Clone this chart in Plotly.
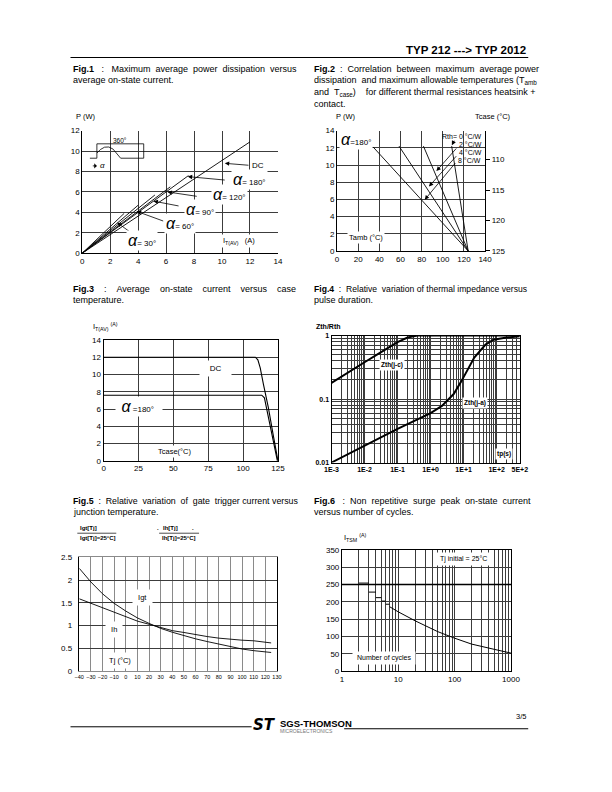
import plotly.graph_objects as go
import math
import re

PAGE_W, PAGE_H = 612, 792
FONT = "Liberation Sans, Arial, Helvetica, sans-serif"
GRID = "#3c3c3c"
GRID_LT = "#8a8a8a"

def fx(p):
    return p / PAGE_W

def fy(p):
    return 1 - p / PAGE_H

# ---------------- DATA ----------------
# Fig.1 : P(W) vs IT(AV)(A)
f1_names = ["30°", "60°", "90°", "120°", "180°", "DC"]
f1_end_I = [3.0, 4.0, 5.2, 6.3, 7.6, 12.0]
f1_end_P = [3.9, 4.7, 5.7, 6.5, 7.6, 10.9]
f1_mark_I = [2.5, 3.9, 5.1, 6.1, 7.55, 10.2]
f1_mark_P = [3.0, 4.1, 5.1, 6.0, 7.5, 8.8]
f1_tail_I = [3.5, 5.9, 7.0, 8.3, 10.3, 12.0]
f1_tail_P = [2.0, 3.1, 4.6, 5.55, 7.15, 8.6]
f1_lab_I = [4.3, 7.0, 8.4, 10.5, 12.0, 12.6]
f1_lab_P = [1.25, 2.95, 4.25, 5.7, 7.25, 8.6]
f1_x_ticks = [0, 2, 4, 6, 8, 10, 12, 14]
f1_y_ticks = [0, 2, 4, 6, 8, 10, 12]
inset_wave_x = [0.55, 1.05, 1.05, 1.3, 1.6, 1.9, 2.2, 2.5, 2.75, 4.4, 4.4]
inset_wave_y = [9.3, 9.3, 9.8, 10.15, 10.38, 10.4, 10.2, 9.7, 9.3, 9.3, 10.71]
inset_dim_x = [1.05, 1.05, 4.4]
inset_dim_y = [9.8, 10.71, 10.71]

# Fig.2 : P(W) vs Tamb, Tcase
f2_rth = ["0", "2", "4", "8"]
f2_tamb_top = [108.4, 81.7, 58.6, 34.1]
f2_p_top = [12.2, 12.2, 12.2, 12.1]
f2_tamb_end = [124, 124, 124, 124]
f2_arrow_T = [108.6, 94.0, 86.9, 82.9]
f2_arrow_P = [12.3, 9.3, 7.5, 5.95]
f2_tail_T = [111.5, 114.0, 114.0, 113.0]
f2_tail_P = [13.0, 12.1, 11.2, 10.4]
f2_x_ticks = [0, 20, 40, 60, 80, 100, 120, 140]
f2_y_ticks = [0, 2, 4, 6, 8, 10, 12, 14]
f2_tcase_ticks = [110, 115, 120, 125]

# Fig.3 : IT(AV) vs Tcase
f3_dc_T = [0, 108.8, 110.6, 112.3, 114.6, 118.1, 121.5, 125]
f3_dc_I = [12.0, 12.0, 11.7, 10.76, 8.85, 6.2, 3.1, 0.0]
f3_180_T = [0, 113.4, 115.3, 118.1, 121.5, 124.6]
f3_180_I = [7.6, 7.6, 7.3, 5.04, 2.37, 0.0]
f3_x_ticks = [0, 25, 50, 75, 100, 125]
f3_y_ticks = [0, 2, 4, 6, 8, 10, 12, 14]

# Fig.4 : Zth/Rth vs tp(s)
f4_tp_jc = [1e-3, 3e-3, 1e-2, 3e-2, 1e-1, 2e-1, 4e-1, 1, 10, 100, 500]
f4_z_jc = [0.18, 0.26, 0.38, 0.54, 0.79, 0.93, 1.0, 1.0, 1.0, 1.0, 1.0]
f4_tp_ja = [1e-3, 1e-2, 1e-1, 1, 2.2, 5, 8.5, 21, 46, 80, 100, 200, 500]
f4_z_ja = [0.01, 0.0184, 0.034, 0.06, 0.078, 0.12, 0.19, 0.45, 0.72, 0.86, 0.88, 0.93, 0.98]
f4_x_labels = {1e-3: "1E-3", 1e-2: "1E-2", 1e-1: "1E-1", 1: "1E+0", 10: "1E+1", 100: "1E+2", 500: "5E+2"}
f4_y_labels = {0.01: "0.01", 0.1: "0.1", 1: "1"}

# Fig.5 : Igt, Ih relative vs Tj
f5_tj = [-40, -30, -20, -10, 0, 10, 20, 30, 40, 50, 60, 70, 80, 90, 100, 110, 120, 125]
f5_igt = [2.26, 1.96, 1.70, 1.49, 1.32, 1.17, 1.05, 0.94, 0.855, 0.78, 0.71, 0.65, 0.59, 0.53, 0.486, 0.45, 0.42, 0.41]
f5_ih = [1.59, 1.49, 1.39, 1.29, 1.20, 1.10, 1.03, 0.96, 0.89, 0.85, 0.80, 0.76, 0.725, 0.70, 0.68, 0.667, 0.64, 0.62]
f5_x_ticks = list(range(-40, 131, 10))
f5_y_ticks = [0, 0.5, 1, 1.5, 2, 2.5]
f5_y_text = ["0", "0.5", "1", "1.5", "2", "2.5"]

# Fig.6 : ITSM vs number of cycles
f6_step_start = [2, 3, 4, 5, 6]
f6_step_end = [3, 4, 5, 6, 7]
f6_step_I = [254, 228, 212, 202, 193]
f6_n = [7, 8, 10, 20, 50, 100, 200, 500, 1000]
f6_I = [186, 180, 171, 145, 114, 95, 78, 63, 52]
f6_y_ticks = [0, 50, 100, 150, 200, 250, 300, 350]
f6_x_labels = {1: "1", 10: "10", 100: "100", 1000: "1000"}
f6_ref_level = 250

# ---------------- LAYOUT (page px) ----------------
F1 = dict(x0=69, x1=270, y0=120, y1=244)
F2 = dict(x0=330.7, x1=482.7, y0=120, y1=241.7)
F3 = dict(x0=91, x1=270, y0=331.7, y1=454)
F4 = dict(x0=325, x1=518.3, y0=327.3, y1=455.7)
F5 = dict(x0=66, x1=269, y0=551.7, y1=666.7)
F6 = dict(x0=335.7, x1=509.3, y0=544, y1=666.7)

# ---------------- FIGURE ----------------
fig = go.Figure()

def line(x, y, xa, ya, width=0.9, color="black"):
    fig.add_trace(go.Scatter(x=x, y=y, mode="lines", xaxis=xa, yaxis=ya,
                             line=dict(color=color, width=width),
                             showlegend=False, hoverinfo="skip"))

for xe, ye in zip(f1_end_I, f1_end_P):
    line([0, xe], [0, ye], "x", "y", 0.9)
line(inset_wave_x, inset_wave_y, "x", "y", 0.8)
line(inset_dim_x, inset_dim_y, "x", "y", 0.8)

for t0, p0, t1 in zip(f2_tamb_top, f2_p_top, f2_tamb_end):
    line([t0, t1], [p0, 0], "x2", "y2", 0.9)
fig.add_trace(go.Scatter(x=[None], y=[None], xaxis="x2", yaxis="y7", showlegend=False))

line(f3_dc_T, f3_dc_I, "x3", "y3", 1.1)
line(f3_180_T, f3_180_I, "x3", "y3", 1.1)

line(f4_tp_jc, f4_z_jc, "x4", "y4", 2.0)
line(f4_tp_ja, f4_z_ja, "x4", "y4", 2.0)

line(f5_tj, f5_igt, "x5", "y5", 0.9)
line(f5_tj, f5_ih, "x5", "y5", 0.9)

sx, sy = [], []
for a, b, v in zip(f6_step_start, f6_step_end, f6_step_I):
    sx += [a, b, None]
    sy += [v, v, None]
line(sx, sy, "x6", "y6", 1.0)
line(f6_n, f6_I, "x6", "y6", 1.0)

# ---------------- AXES ----------------
def ax(**kw):
    d = dict(showline=True, linecolor="black", linewidth=1, ticks="", showgrid=True,
             gridcolor=GRID, gridwidth=1, zeroline=False, fixedrange=True, tickangle=0,
             tickfont=dict(size=8, color="black", family=FONT))
    d.update(kw)
    return d

def log_vals(lo_exp, hi_exp, maxv):
    vals = []
    for e in range(lo_exp, hi_exp + 1):
        for k in range(1, 10):
            v = k * 10 ** e
            if v <= maxv * 1.0001:
                vals.append(v)
    return vals

f4_xv = log_vals(-3, 2, 500)
f4_yv = log_vals(-2, 0, 1)
f6_xv = log_vals(0, 3, 1000)

def lab(vals, labels):
    out = []
    for v in vals:
        s = ""
        for k, t in labels.items():
            if abs(v - k) <= 1e-9 * max(1, k):
                s = t
        out.append(s)
    return out

def xd(F):
    return [fx(F["x0"]), fx(F["x1"])]

def yd(F):
    return [fy(F["y1"]), fy(F["y0"])]

NB = "\u00a0"

fig.update_layout(
    xaxis=ax(domain=xd(F1), anchor="y", range=[0, 14], tickvals=f1_x_ticks),
    yaxis=ax(domain=yd(F1), anchor="x", range=[0, 12], tickvals=f1_y_ticks),
    xaxis2=ax(domain=xd(F2), anchor="y2", range=[0, 140], tickvals=f2_x_ticks),
    yaxis2=ax(domain=yd(F2), anchor="x2", range=[0, 14], tickvals=f2_y_ticks),
    yaxis7=ax(overlaying="y2", side="right", anchor="x2", range=[125, 105.24],
              tickvals=f2_tcase_ticks, ticks="outside", ticklen=4, tickcolor="black",
              showgrid=False),
    xaxis3=ax(domain=xd(F3), anchor="y3", range=[0, 125], tickvals=f3_x_ticks, mirror=True),
    yaxis3=ax(domain=yd(F3), anchor="x3", range=[0, 14], tickvals=f3_y_ticks, mirror=True),
    xaxis4=ax(domain=xd(F4), anchor="y4", type="log", range=[-3, math.log10(500)],
              tickvals=f4_xv, ticktext=lab(f4_xv, f4_x_labels), mirror=True, gridwidth=0.8,
              tickfont=dict(size=7, color="black", family=FONT, weight="bold")),
    yaxis4=ax(domain=yd(F4), anchor="x4", type="log", range=[-2, 0],
              tickvals=f4_yv, ticktext=lab(f4_yv, f4_y_labels), mirror=True, gridwidth=0.8,
              tickfont=dict(size=7, color="black", family=FONT, weight="bold")),
    xaxis5=ax(domain=xd(F5), anchor="y5", range=[-40, 130], tickvals=f5_x_ticks,
              gridcolor=GRID_LT, mirror=True, linecolor=GRID_LT,
              tickfont=dict(size=5.5, color="black", family=FONT)),
    yaxis5=ax(domain=yd(F5), anchor="x5", range=[0, 2.5], tickvals=f5_y_ticks,
              ticktext=[t + NB * 2 for t in f5_y_text], mirror=True),
    xaxis6=ax(domain=xd(F6), anchor="y6", type="log", range=[0, 3],
              tickvals=f6_xv, ticktext=lab(f6_xv, f6_x_labels), mirror=True),
    yaxis6=ax(domain=yd(F6), anchor="x6", range=[0, 350], tickvals=f6_y_ticks, mirror=True),
)

# ---------------- ANNOTATIONS ----------------
anns = []
shapes = []

def text(t, x, y, size=8, xanchor="left", yanchor="middle", bold=False, bg=None, xref="paper",
         yref="paper", pad=1, color="black", family=FONT):
    if xref == "paper":
        x = fx(x)
    if yref == "paper":
        y = fy(y)
    a = dict(text=("<b>%s</b>" % t) if bold else t, x=x, y=y, xref=xref, yref=yref,
             xanchor=xanchor, yanchor=yanchor, showarrow=False,
             font=dict(size=size, family=family, color=color), borderpad=pad)
    if bg:
        a["bgcolor"] = bg
    anns.append(a)

def arrow(x, y, axv, ayv, xr, yr, head=2):
    anns.append(dict(text="", x=x, y=y, ax=axv, ay=ayv, xref=xr, yref=yr, axref=xr, ayref=yr,
                     showarrow=True, arrowhead=head, arrowsize=1.1, arrowwidth=0.8,
                     arrowcolor="black", standoff=0, startstandoff=0))

def hline(x0, x1, y, w=1, color="black"):
    shapes.append(dict(type="line", xref="paper", yref="paper", x0=fx(x0), x1=fx(x1),
                       y0=fy(y), y1=fy(y), line=dict(color=color, width=w)))

shapes.append(dict(type="line", xref="x6 domain", yref="y6", x0=0, x1=1,
                   y0=f6_ref_level, y1=f6_ref_level, line=dict(color="black", width=1.6)))

# approximate Arial/Liberation Sans advance widths (1/1000 em)
CW = {" ": 278, ".": 278, ":": 278, ",": 278, "-": 333, "(": 333, ")": 333, "+": 584,
      "f": 278, "i": 222, "j": 222, "l": 222, "r": 333, "t": 278, "m": 833, "w": 722,
      "c": 500, "k": 500, "s": 500, "v": 500, "x": 500, "y": 500, "z": 500,
      "F": 611, "T": 611, "M": 833, "I": 278}

def est_width(t, size):
    t = re.sub(r"<sub>(.*?)</sub>", lambda m: "~" * len(m.group(1)), t)
    t = re.sub(r"<[^>]+>", "", t)
    w = 0
    for ch in t:
        if ch == "~":
            w += 556 * 0.7
        else:
            w += CW.get(ch, 556)
    return w * size / 1000.0

def justify(t, width, size):
    parts = t.split(" ")
    gaps = len(parts) - 1
    extra = width - est_width(t, size)
    sp = 0.278 * size
    n_extra = max(0, int(round(extra / sp)))
    out = parts[0]
    for i, p in enumerate(parts[1:]):
        k = n_extra // gaps + (1 if i < n_extra % gaps else 0)
        out += " " + "\u00a0" * k + p
    return out

CAP = 9

# Header
text("TYP 212 ---> TYP 2012", 527, 38, size=11.5, xanchor="right", bold=True)
hline(57, 527, 46, 1.2)

# Captions
L, R = 57, 305
WL, WR = 222, 222
text(justify("<b>Fig.1</b> : Maximum average power dissipation versus", WL, CAP), L, 58, size=CAP)
text("average on-state current.", L, 69, size=CAP)
text(justify("<b>Fig.2</b> : Correlation between maximum average power", WR, CAP), R, 58, size=CAP)
text(justify("dissipation and maximum allowable temperatures (T<sub>amb</sub>", WR - 2, CAP), R, 69, size=CAP)
text(justify("and T<sub>case</sub>)  for different thermal resistances heatsink +", WR, CAP), R, 81, size=CAP)
text("contact.", R, 93, size=CAP)
text(justify("<b>Fig.3</b> : Average on-state current versus case", WL, CAP), L, 280, size=CAP)
text("temperature.", L, 291, size=CAP)
text(justify("<b>Fig.4</b> : Relative variation of thermal impedance versus", 210, 8.6), R, 280, size=8.6)
text("pulse duration.", R, 291, size=CAP)
text(justify("<b>Fig.5</b> : Relative variation of gate trigger current versus", WL, 8.8), L, 495, size=8.8)
text("junction temperature.", L, 506, size=CAP)
text(justify("<b>Fig.6</b> : Non repetitive surge peak on-state current", 213, CAP), R, 495, size=CAP)
text("versus number of cycles.", R, 506, size=CAP)

ALPHA = "<span style='font-size:16px'><i>α</i></span>"

# Fig1 annotations
text("P (W)", F1["x0"] - 8, 106, size=7.5)
text("I<sub>T(AV)</sub>" + NB * 3 + "(A)", 11.2, 1.2, size=7.5, xanchor="center", xref="x", yref="y", bg="white")
for i in range(6):
    arrow(f1_mark_I[i], f1_mark_P[i], f1_tail_I[i], f1_tail_P[i], "x", "y")
    t = "DC" if f1_names[i] == "DC" else ALPHA + "=" + NB + f1_names[i]
    text(t, f1_lab_I[i], f1_lab_P[i], size=8, xanchor="center", xref="x", yref="y", bg="white")
text("360°", 2.7, 11.0, size=6.5, xanchor="center", xref="x", yref="y")
text("<i>α</i>", 1.45, 8.55, size=8, xanchor="center", xref="x", yref="y")
arrow(1.05, 8.55, 0.65, 8.55, "x", "y", head=1)

# Fig2 annotations
text("P (W)", 328, 106, size=7.5)
text("Tcase (°C)", 470, 106, size=7.5)
text(ALPHA + "=180°", 1.5, 13.0, size=8, xref="x2", yref="y2", bg="white")
text("Tamb (°C)", 27, 1.55, size=7.5, xanchor="center", xref="x2", yref="y2", bg="white")
text("Rth=" + NB + "0" + NB + "°C/W", 138, 13.3, size=7, xanchor="right", xref="x2", yref="y2", pad=0)
text("2" + NB + "°C/W", 114.2, 12.4, size=7, xref="x2", yref="y2", pad=0)
text("4" + NB + "°C/W", 114.8, 11.45, size=7, xref="x2", yref="y2", pad=0)
text("8" + NB + "°C/W", 113.6, 10.5, size=7, xref="x2", yref="y2", pad=0)
for i in range(4):
    arrow(f2_arrow_T[i], f2_arrow_P[i], f2_tail_T[i], f2_tail_P[i], "x2", "y2")

# Fig3 annotations
text("I<sub>T(AV)</sub> <sup>(A)</sup>", 78, 318, size=7.5)
text(NB * 3 + "DC" + NB * 3, 80, 10.7, size=8, xanchor="center", xref="x3", yref="y3", bg="white", pad=3)
text(NB * 2 + ALPHA + NB + "=180°" + NB * 3, 25.5, 6.3, size=8, xanchor="center", xref="x3", yref="y3",
     bg="white", pad=1)
text("Tcase(°C)", 51.5, 1.05, size=7.5, xanchor="center", xref="x3", yref="y3", bg="white")

# Fig4 annotations
text("<b>Zth/Rth</b>", 307, 318, size=7)
text("<b>Zth(j-c)</b>", 387, 357, size=6.5, xanchor="center", bg="white")
text("<b>Zth(j-a)</b>", 472, 395, size=6.5, xanchor="center", bg="white")
text("<b>tp(s)</b>", 502, 447, size=6.5, xanchor="center", bg="white")

# Fig5 annotations
FA, FB = 64, 148
text("<b>Igt[Tj]</b>", FA + 1, 522, size=6)
hline(FA, FA + 40, 527.2, 0.7)
text("<b>Igt[Tj]=25°C]</b>", FA + 1, 532.5, size=6)
text("<b>.</b>", FB - 4, 522, size=6)
text("<b>Ih[Tj]</b>", FB + 2, 522, size=6)
text("<b>.</b>", FB + 32, 522, size=6)
hline(FB, FB + 41, 527.2, 0.7)
text("<b>Ih[Tj]=25°C]</b>", FB + 1, 532.5, size=6)
text(NB + "Igt" + NB, 14, 1.62, size=7.5, xanchor="center", xref="x5", yref="y5", bg="white", pad=3)
text(NB + "Ih" + NB, -10, 0.92, size=7.5, xanchor="center", xref="x5", yref="y5", bg="white", pad=3)
text(NB + "Tj (°C)" + NB, -5, 0.23, size=7.5, xanchor="center", xref="x5", yref="y5", bg="white", pad=3)

# Fig6 annotations
text("I<sub>TSM</sub> <sup>(A)</sup>", 336, 532, size=7.5)
text(NB + "Tj initial = 25°C" + NB, 461, 553, size=7, xanchor="center", bg="white", pad=2)
text(NB + "Number of cycles" + NB, 379, 653, size=7, xanchor="center", bg="white", pad=2)

# Footer
hline(57, 243, 723, 1.0)
text("<b><i>ST</i></b>", 256, 721, size=15, xanchor="center", family="DejaVu Sans, sans-serif")
text("<b>SGS-THOMSON</b>", 270, 719.5, size=9.5)
text("MICROELECTRONICS", 270, 727, size=5, color="#777777")
hline(338, 527, 725, 1.0)
text("3/5", 527, 713, size=7.5, xanchor="right")

fig.update_layout(
    width=PAGE_W, height=PAGE_H, autosize=False,
    margin=dict(l=0, r=0, t=0, b=0),
    paper_bgcolor="white", plot_bgcolor="white",
    showlegend=False,
    font=dict(family=FONT, size=8, color="black"),
    annotations=anns, shapes=shapes,
)

fig.write_html("out.html")
